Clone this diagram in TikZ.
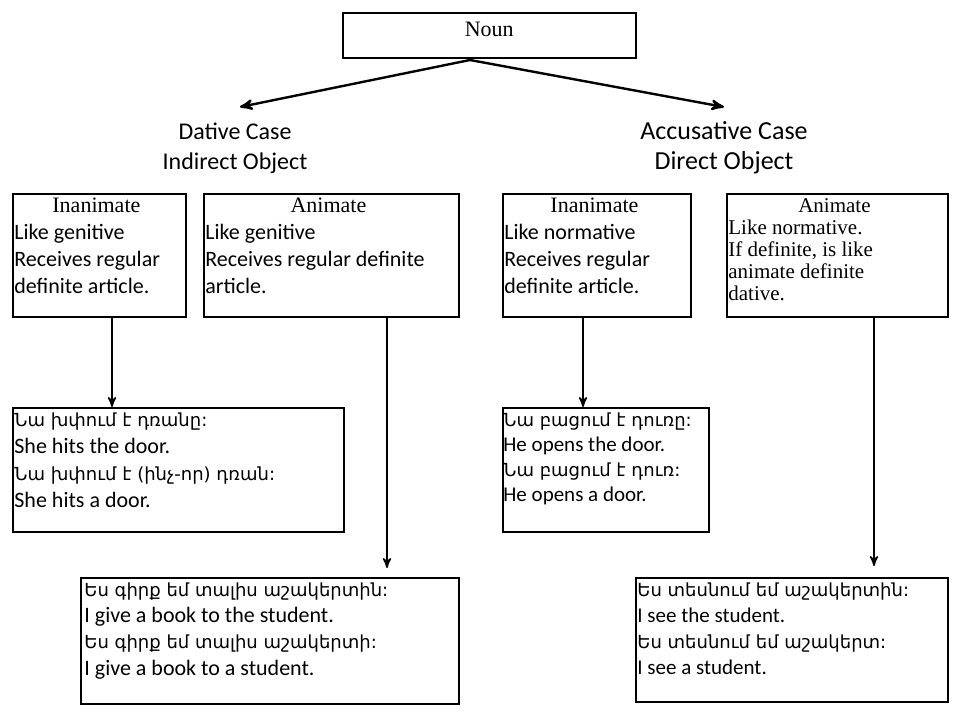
\documentclass[tikz,border=0pt]{standalone}
\usepackage{fontspec}
\setmainfont{Liberation Serif}
\newfontfamily\calfont{Carlito}
\newfontfamily\armfont{DejaVu Sans}
\usetikzlibrary{arrows,calc,positioning}
\tikzset{
  box/.style = {draw, thick, anchor=north west, inner sep=0pt},
  txt/.style = {anchor=north west, align=left, inner sep=0pt, font=\calfont\fontsize{11}{13.5}\selectfont},
  head/.style = {align=center, inner sep=0pt, font=\calfont\fontsize{12}{15}\selectfont}
}
\newcommand{\arm}[1]{{\armfont\fontsize{9}{10}\selectfont #1}}
\begin{document}
\begin{tikzpicture}[x=0.5pt,y=-0.5pt,>=latex, ar/.style={->, thick, >=stealth'}]
  \useasboundingbox (0,0) rectangle (975,724);
  % top
  \node [box, minimum width=146.5pt, minimum height=22.5pt] (noun) at (342,12) {};
  \node [font=\fontsize{11}{13}\selectfont, anchor=north] at ($(noun.north)+(0,3)$) {Noun};
  \coordinate (split) at (470,60);
  \node [head] (dat) at (235,148) {Dative Case\\Indirect Object};
  \node [head, font=\calfont\fontsize{13}{15}\selectfont] (acc) at (724,148) {Accusative Case\\Direct Object};
  \draw [ar, very thick] (split) -- (240,107);
  \draw [ar, very thick] (split) -- (724,107);
  % second row
  \node [box, minimum width=86.5pt, minimum height=61.5pt] (inl) at (12,193) {};
  \node [box, minimum width=127.5pt, minimum height=61.5pt] (anl) at (203,193) {};
  \node [box, minimum width=94pt, minimum height=61.5pt] (inr) at (502,193) {};
  \node [box, minimum width=110.5pt, minimum height=61.5pt] (anr) at (726,193) {};
  \node [txt] at ($(inl.north west)+(2,5)$) {\makebox[82pt]{\rmfamily Inanimate}\\Like genitive\\Receives regular\\definite article.};
  \node [txt] at ($(anl.north west)+(2,5)$) {\makebox[123pt]{\rmfamily Animate}\\Like genitive\\Receives regular definite\\article.};
  \node [txt] at ($(inr.north west)+(2,5)$) {\makebox[90pt]{\rmfamily Inanimate}\\Like normative\\Receives regular\\definite article.};
  \node [txt, font=\fontsize{10.5}{11}\selectfont] at ($(anr.north west)+(2,5)$) {\makebox[106pt]{Animate}\\Like normative.\\If definite, is like\\animate definite\\dative.};
  % examples
  \node [box, minimum width=165.5pt, minimum height=62pt] (exa) at (12,407) {};
  \node [box, minimum width=189pt, minimum height=63pt] (exb) at (80,577) {};
  \node [box, minimum width=103pt, minimum height=62pt] (exc) at (502,407) {};
  \node [box, minimum width=156pt, minimum height=62pt] (exd) at (635,577) {};
  \node [txt] at ($(exa.north west)+(2,5)$) {\arm{Նա խփում է դռանը:}\\She hits the door.\\\arm{Նա խփում է (ինչ-որ) դռան:}\\She hits a door.};
  \node [txt, font=\calfont\fontsize{11}{13.2}\selectfont] at ($(exb.north west)+(4,5)$) {\arm{Ես գիրք եմ տալիս աշակերտին:}\\I give a book to the student.\\\arm{Ես գիրք եմ տալիս աշակերտի:}\\I give a book to a student.};
  \node [txt, font=\calfont\fontsize{10.5}{12.5}\selectfont] at ($(exc.north west)+(1,5)$) {\arm{Նա բացում է դուռը:}\\He opens the door.\\\arm{Նա բացում է դուռ:}\\He opens a door.};
  \node [txt, font=\calfont\fontsize{10.5}{13}\selectfont] at ($(exd.north west)+(2,5)$) {\arm{Ես տեսնում եմ աշակերտին:}\\I see the student.\\\arm{Ես տեսնում եմ աշակերտ:}\\I see a student.};
  % arrows
  \draw [ar] (inl.south west -| 112,0) -- (exa.north west -| 112,0);
  \draw [ar] (anl.south west -| 387,0) -- (387,568);
  \draw [ar] (inr.south west -| 583,0) -- (exc.north west -| 583,0);
  \draw [ar] (anr.south west -| 874,0) -- (874,566);
\end{tikzpicture}
\end{document}
